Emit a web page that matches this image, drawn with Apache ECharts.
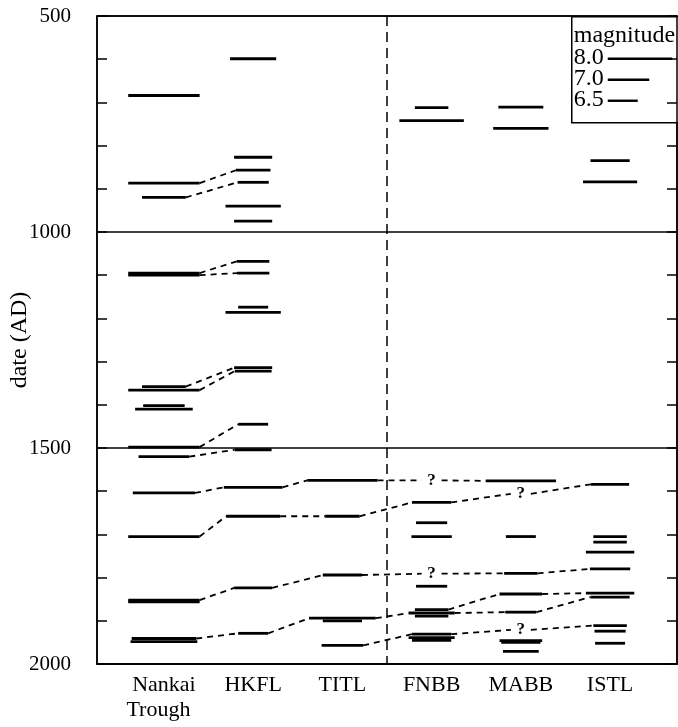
<!DOCTYPE html>
<html>
<head>
<meta charset="utf-8">
<script src="https://cdn.jsdelivr.net/npm/echarts@6/dist/echarts.min.js"></script>
<style>
  html, body { margin: 0; padding: 0; background: #fff; }
  #main { width: 678px; height: 727px; }
</style>
</head>
<body>
<div id="main"></div>
<script>
// fault zones along the x axis
const categories = ['Nankai\nTrough  ', 'HKFL', 'TITL', 'FNBB', 'MABB', 'ISTL'];
const yTicks = [500, 1000, 1500, 2000];
const legendMags = [8.0, 7.0, 6.5];

// events per zone: [year AD, magnitude]
const nankai = [[684, 8.3], [887, 8.3], [920, 7.1], [1095, 8.3], [1100, 8.3], [1358, 7.1], [1366, 8.3],
  [1402, 7.0], [1410, 7.7], [1498, 8.3], [1520, 7.4], [1604, 7.9], [1705, 8.3], [1852, 8.3], [1856, 8.3],
  [1941, 8.0], [1948, 8.1]];
const hkfl = [[599, 7.2], [827, 6.85], [857, 6.7], [885, 6.55], [940, 7.6], [975, 6.85], [1068, 6.6],
  [1095, 6.6], [1174, 6.5], [1186, 7.6], [1314, 6.85], [1322, 6.8], [1445, 6.5], [1504, 6.8], [1591, 7.75],
  [1658, 7.55], [1824, 6.85], [1929, 6.5]];
const titl = [[1575, 8.25], [1658, 6.7], [1794, 6.9], [1894, 8.1], [1900, 6.9], [1957, 7.0]];
const fnbb = [[712, 6.65], [742, 8.0], [1626, 6.9], [1673, 6.55], [1705, 6.95], [1820, 6.55], [1874, 6.65],
  [1882, 7.2], [1889, 6.65], [1931, 6.9], [1939, 7.2], [1945, 6.9]];
const mabb = [[711, 7.15], [760, 7.6], [1576, 8.25], [1705, 6.5], [1790, 6.65], [1838, 7.05], [1880, 6.55],
  [1946, 7.05], [1950, 6.9], [1971, 6.75]];
const istl = [[835, 6.9], [884, 7.55], [1584, 6.85], [1705, 6.65], [1718, 6.65], [1741, 7.3], [1780, 6.95],
  [1836, 7.3], [1845, 6.9], [1911, 6.65], [1924, 6.55], [1952, 6.5]];

const columns = [nankai, hkfl, titl, fnbb, mabb, istl];

// correlated events: [zone, year], third item '?' = no record there
const chains = [
  [[0, 887], [1, 857]],
  [[0, 920], [1, 885]],
  [[0, 1095], [1, 1068]],
  [[0, 1100], [1, 1095]],
  [[0, 1358], [1, 1314]],
  [[0, 1366], [1, 1322]],
  [[0, 1498], [1, 1445]],
  [[0, 1520], [1, 1504]],
  [[0, 1604], [1, 1591], [2, 1575], [3, 1575, '?'], [4, 1576]],
  [[0, 1705], [1, 1658], [2, 1658], [3, 1626], [4, 1606, '?'], [5, 1584]],
  [[0, 1852], [1, 1824], [2, 1794], [3, 1791, '?'], [4, 1790], [5, 1780]],
  [[0, 1941], [1, 1929], [2, 1894], [3, 1882], [4, 1880], [5, 1845]],
  [[2, 1957], [3, 1931], [4, 1921, '?'], [5, 1911]],
  [[3, 1874], [4, 1838], [5, 1836]]
];

// magnitude -> bar length in px
function lenPx(m) { return 30 + 23 * (m - 6.5); }

function magOf(c, yr) {
  const e = columns[c].find(d => d[0] === yr);
  return e ? e[1] : 0;
}

const segData = [];
columns.forEach((list, c) => list.forEach(e => segData.push([c, e[0], e[1]])));

const linkData = [];
const qData = [];
chains.forEach(ch => {
  for (let i = 0; i < ch.length - 1; i++) {
    const a = ch[i], b = ch[i + 1];
    const ma = a[2] === '?' ? 0 : magOf(a[0], a[1]);
    const mb = b[2] === '?' ? 0 : magOf(b[0], b[1]);
    linkData.push([a[0], a[1], ma, b[0], b[1], mb]);
  }
  ch.forEach(n => { if (n[2] === '?') qData.push([n[0], n[1]]); });
});

const font = 'Liberation Serif';
const chart = echarts.init(document.getElementById('main'));

const yAxisBase = {
  type: 'value',
  inverse: true,
  min: 500,
  max: 2000,
  interval: 500,
  axisLine: { show: true, onZero: false, lineStyle: { color: '#000', width: 1.5 } },
  axisTick: { show: true, inside: true, length: 10, lineStyle: { color: '#000', width: 1.5 } },
  minorTick: { show: true, splitNumber: 5, length: 10, lineStyle: { color: '#000', width: 1.5 } }
};

chart.setOption({
  animation: false,
  backgroundColor: '#fff',
  grid: {
    left: 97, right: 1, top: 16, bottom: 63,
    containLabel: false, outerBoundsMode: 'none',
    show: true, borderColor: '#000', borderWidth: 1.5
  },
  xAxis: {
    type: 'value',
    min: -0.75,
    max: 5.75,
    interval: 0.25,
    axisLine: { onZero: false, lineStyle: { color: '#000', width: 1.5 } },
    axisTick: { show: false },
    splitLine: { show: false },
    axisLabel: {
      color: '#000',
      fontFamily: font,
      fontSize: 22,
      margin: 9,
      lineHeight: 25,
      formatter: v => (Number.isInteger(v) && categories[v]) ? categories[v] : ''
    }
  },
  yAxis: [
    Object.assign({}, yAxisBase, {
      position: 'left',
      name: 'date (AD)',
      nameLocation: 'middle',
      nameGap: 65,
      nameMoveOverlap: false,
      nameTextStyle: { color: '#000', fontFamily: font, fontSize: 24 },
      axisLabel: {
        color: '#000', fontFamily: font, fontSize: 21, margin: 26,
        formatter: v => yTicks.includes(v) ? String(v) : ''
      },
      splitLine: { show: true, lineStyle: { color: '#000', width: 1.5 } }
    }),
    Object.assign({}, yAxisBase, {
      position: 'right',
      axisLabel: { show: false },
      splitLine: { show: false }
    })
  ],
  series: [
    {
      type: 'custom',
      name: 'events',
      data: segData,
      renderItem: (params, api) => {
        const p = api.coord([api.value(0), api.value(1)]);
        const h = lenPx(api.value(2)) / 2;
        return {
          type: 'line',
          shape: { x1: p[0] - h, y1: p[1], x2: p[0] + h, y2: p[1] },
          style: { stroke: '#000', lineWidth: 2.8 }
        };
      },
      markLine: {
        silent: true,
        symbol: 'none',
        label: { show: false },
        lineStyle: { color: '#000', width: 1.5, type: [10, 6] },
        data: [{ xAxis: 2.5 }]
      }
    },
    {
      type: 'custom',
      name: 'links',
      data: linkData,
      renderItem: (params, api) => {
        const a = api.coord([api.value(0), api.value(1)]);
        const b = api.coord([api.value(3), api.value(4)]);
        const ha = api.value(2) ? lenPx(api.value(2)) / 2 : 10;
        const hb = api.value(5) ? lenPx(api.value(5)) / 2 : 10;
        return {
          type: 'line',
          shape: { x1: a[0] + ha, y1: a[1], x2: b[0] - hb, y2: b[1] },
          style: { stroke: '#000', lineWidth: 1.8, lineDash: [6, 5] }
        };
      }
    },
    {
      type: 'custom',
      name: 'unknown',
      data: qData,
      renderItem: (params, api) => {
        const p = api.coord([api.value(0), api.value(1)]);
        return {
          type: 'text',
          style: {
            text: '?', x: p[0], y: p[1], align: 'center', verticalAlign: 'middle',
            font: 'bold 17px "Liberation Serif"', fill: '#000'
          }
        };
      }
    }
  ],
  graphic: [
    {
      type: 'group',
      left: 571,
      top: 16,
      children: [
        { type: 'rect', shape: { x: 0, y: 0, width: 120, height: 106 },
          style: { fill: '#fff', stroke: '#000', lineWidth: 1.5 } },
        { type: 'text', x: 2, y: 19,
          style: { text: 'magnitude', font: '24px "Liberation Serif"', fill: '#000', verticalAlign: 'middle' } }
      ].concat(...legendMags.map((m, i) => [
        { type: 'text', x: 2, y: 41 + i * 21,
          style: { text: m.toFixed(1), font: '24px "Liberation Serif"', fill: '#000', verticalAlign: 'middle' } },
        { type: 'line', shape: { x1: 36, y1: 42 + i * 21, x2: 36 + lenPx(m), y2: 42 + i * 21 },
          style: { stroke: '#000', lineWidth: 2.4 } }
      ]))
    }
  ]
});
</script>
</body>
</html>
